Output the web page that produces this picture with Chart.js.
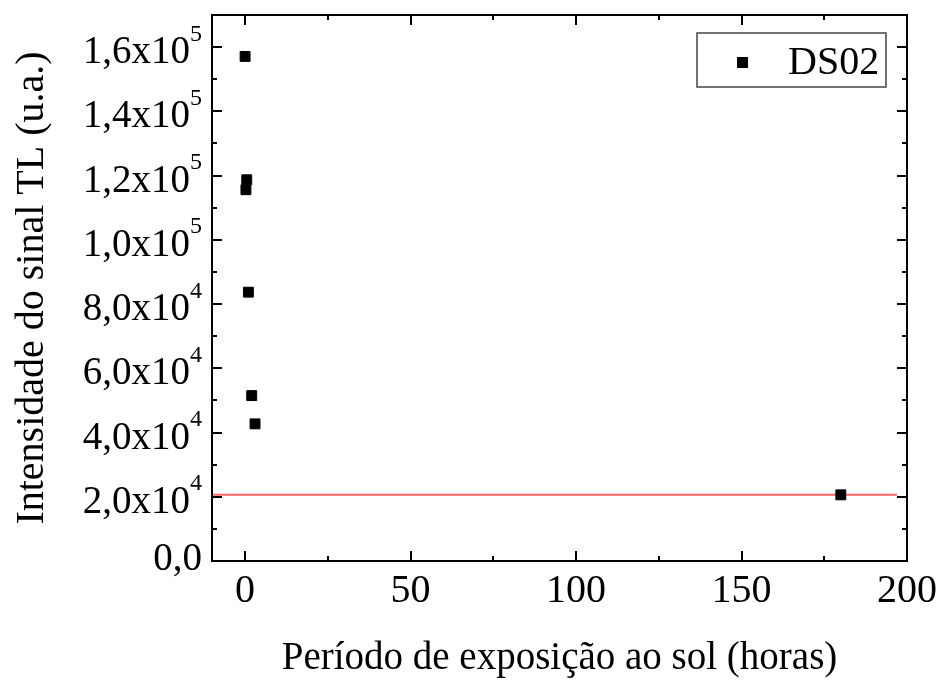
<!DOCTYPE html>
<html lang="pt">
<head>
<meta charset="utf-8">
<title>Intensidade do sinal TL - DS02</title>
<script src="https://cdn.jsdelivr.net/npm/chart.js@4.4.1/dist/chart.umd.min.js"></script>
<style>
  html, body { margin: 0; padding: 0; background: #fff; }
  #wrap { width: 943px; height: 681px; }
</style>
</head>
<body>
<div id="wrap"><canvas id="tlChart" width="943" height="681"></canvas></div>
<script>
// período de exposição ao sol (horas) x sinal TL da amostra DS02
const horas = [0, 0.25, 0.5, 1, 2, 3, 180];
const sinalTL = [157100, 115600, 118700, 83700, 51500, 42700, 20600];

// linha de referência (nível residual do sinal)
const refHoras = [-10, 197];
const refSinal = [20600, 20600];

// marcas dos eixos
const xTicks = [0, 50, 100, 150, 200];
const xMinor = [25, 75, 125, 175];
const yTicks = [0, 20000, 40000, 60000, 80000, 100000, 120000, 140000, 160000];
const yMinor = [10000, 30000, 50000, 70000, 90000, 110000, 130000, 150000];

const SERIF = '"Liberation Serif", "Times New Roman", serif';

// rótulo do tipo 1,6x10^5
function fmtTick(v) {
  if (v === 0) return { base: '0,0', exp: '' };
  const e = Math.floor(Math.log10(v) + 1e-9);
  const m = (v / Math.pow(10, e)).toFixed(1).replace('.', ',');
  return { base: m + 'x10', exp: String(e) };
}

// moldura com marcas para dentro nos quatro lados
const moldura = {
  id: 'moldura',
  afterDatasetsDraw(chart) {
    const { ctx, chartArea: a, scales: { x, y } } = chart;
    ctx.save();
    ctx.strokeStyle = '#000';
    ctx.lineWidth = 2;
    ctx.strokeRect(a.left, a.top, a.right - a.left, a.bottom - a.top);

    ctx.beginPath();
    const tx = (vals, len) => vals.forEach(v => {
      const px = Math.round(x.getPixelForValue(v));
      ctx.moveTo(px, a.bottom); ctx.lineTo(px, a.bottom - len);
      ctx.moveTo(px, a.top); ctx.lineTo(px, a.top + len);
    });
    const ty = (vals, len) => vals.forEach(v => {
      const py = Math.round(y.getPixelForValue(v));
      ctx.moveTo(a.left, py); ctx.lineTo(a.left + len, py);
      ctx.moveTo(a.right, py); ctx.lineTo(a.right - len, py);
    });
    tx(xTicks, 10); tx(xMinor, 5);
    ty(yTicks, 10); ty(yMinor, 5);
    ctx.stroke();
    ctx.restore();
  },
  afterDraw(chart) {
    const { ctx, scales: { y } } = chart;
    ctx.save();
    ctx.fillStyle = '#000';
    ctx.textAlign = 'right';
    ctx.textBaseline = 'alphabetic';
    const xr = 202;
    yTicks.forEach(v => {
      const py = y.getPixelForValue(v);
      const t = fmtTick(v);
      // o zero sobe um pouco para não encostar no eixo x
      const base = v === 0 ? py + 9 : py + 16;
      let w = 0;
      if (t.exp) {
        ctx.font = '24px ' + SERIF;
        w = ctx.measureText(t.exp).width;
        ctx.fillText(t.exp, xr, base - 22.5);
      }
      ctx.font = '39px ' + SERIF;
      ctx.fillText(t.base, xr - w, base);
    });

    // legenda com caixa
    const ds = chart.data.datasets[0];
    ctx.strokeStyle = '#444';
    ctx.lineWidth = 1.5;
    ctx.strokeRect(697, 33, 189, 54);
    ctx.fillStyle = ds.backgroundColor;
    ctx.fillRect(737, 57, 11, 11);
    ctx.fillStyle = '#000';
    ctx.textAlign = 'left';
    ctx.font = '40px ' + SERIF;
    ctx.fillText(ds.label, 788, 74);
    ctx.restore();
  }
};

new Chart(document.getElementById('tlChart'), {
  type: 'scatter',
  data: {
    datasets: [
      {
        label: 'DS02',
        data: horas.map((h, i) => ({ x: h, y: sinalTL[i] })),
        pointStyle: 'rect',
        pointRadius: 7,
        pointHoverRadius: 7,
        backgroundColor: '#000',
        borderColor: '#000',
        borderWidth: 1
      },
      {
        label: 'referência',
        data: refHoras.map((h, i) => ({ x: h, y: refSinal[i] })),
        showLine: true,
        pointRadius: 0,
        borderColor: 'rgb(255, 100, 100)',
        borderWidth: 2
      }
    ]
  },
  options: {
    responsive: false,
    animation: false,
    devicePixelRatio: 1,
    layout: { padding: { top: 15, right: 34, left: 0, bottom: 0 } },
    plugins: { legend: { display: false }, tooltip: { enabled: false } },
    scales: {
      x: {
        type: 'linear',
        min: -10,
        max: 200,
        grid: { display: false, drawTicks: false },
        border: { display: false },
        ticks: {
          stepSize: 50,
          includeBounds: false,
          maxRotation: 0,
          padding: 6,
          color: '#000',
          font: { family: SERIF, size: 40 },
          callback: v => xTicks.includes(v) ? String(v) : null
        },
        title: {
          display: true,
          text: 'Período de exposição ao sol (horas)',
          color: '#000',
          font: { family: SERIF, size: 39, lineHeight: 1.1 },
          padding: { top: 0, bottom: 1 }
        },
        afterFit: s => { s.height = 120; }
      },
      y: {
        min: 0,
        max: 170000,
        grid: { display: false, drawTicks: false },
        border: { display: false },
        ticks: { display: false, stepSize: 20000 },
        title: {
          display: true,
          text: 'Intensidade do sinal TL (u.a.)',
          color: '#000',
          font: { family: SERIF, size: 40, lineHeight: 1.1 },
          padding: { top: 10, bottom: 0 }
        },
        afterFit: s => { s.width = 212; }
      }
    }
  },
  plugins: [moldura]
});
</script>
</body>
</html>
